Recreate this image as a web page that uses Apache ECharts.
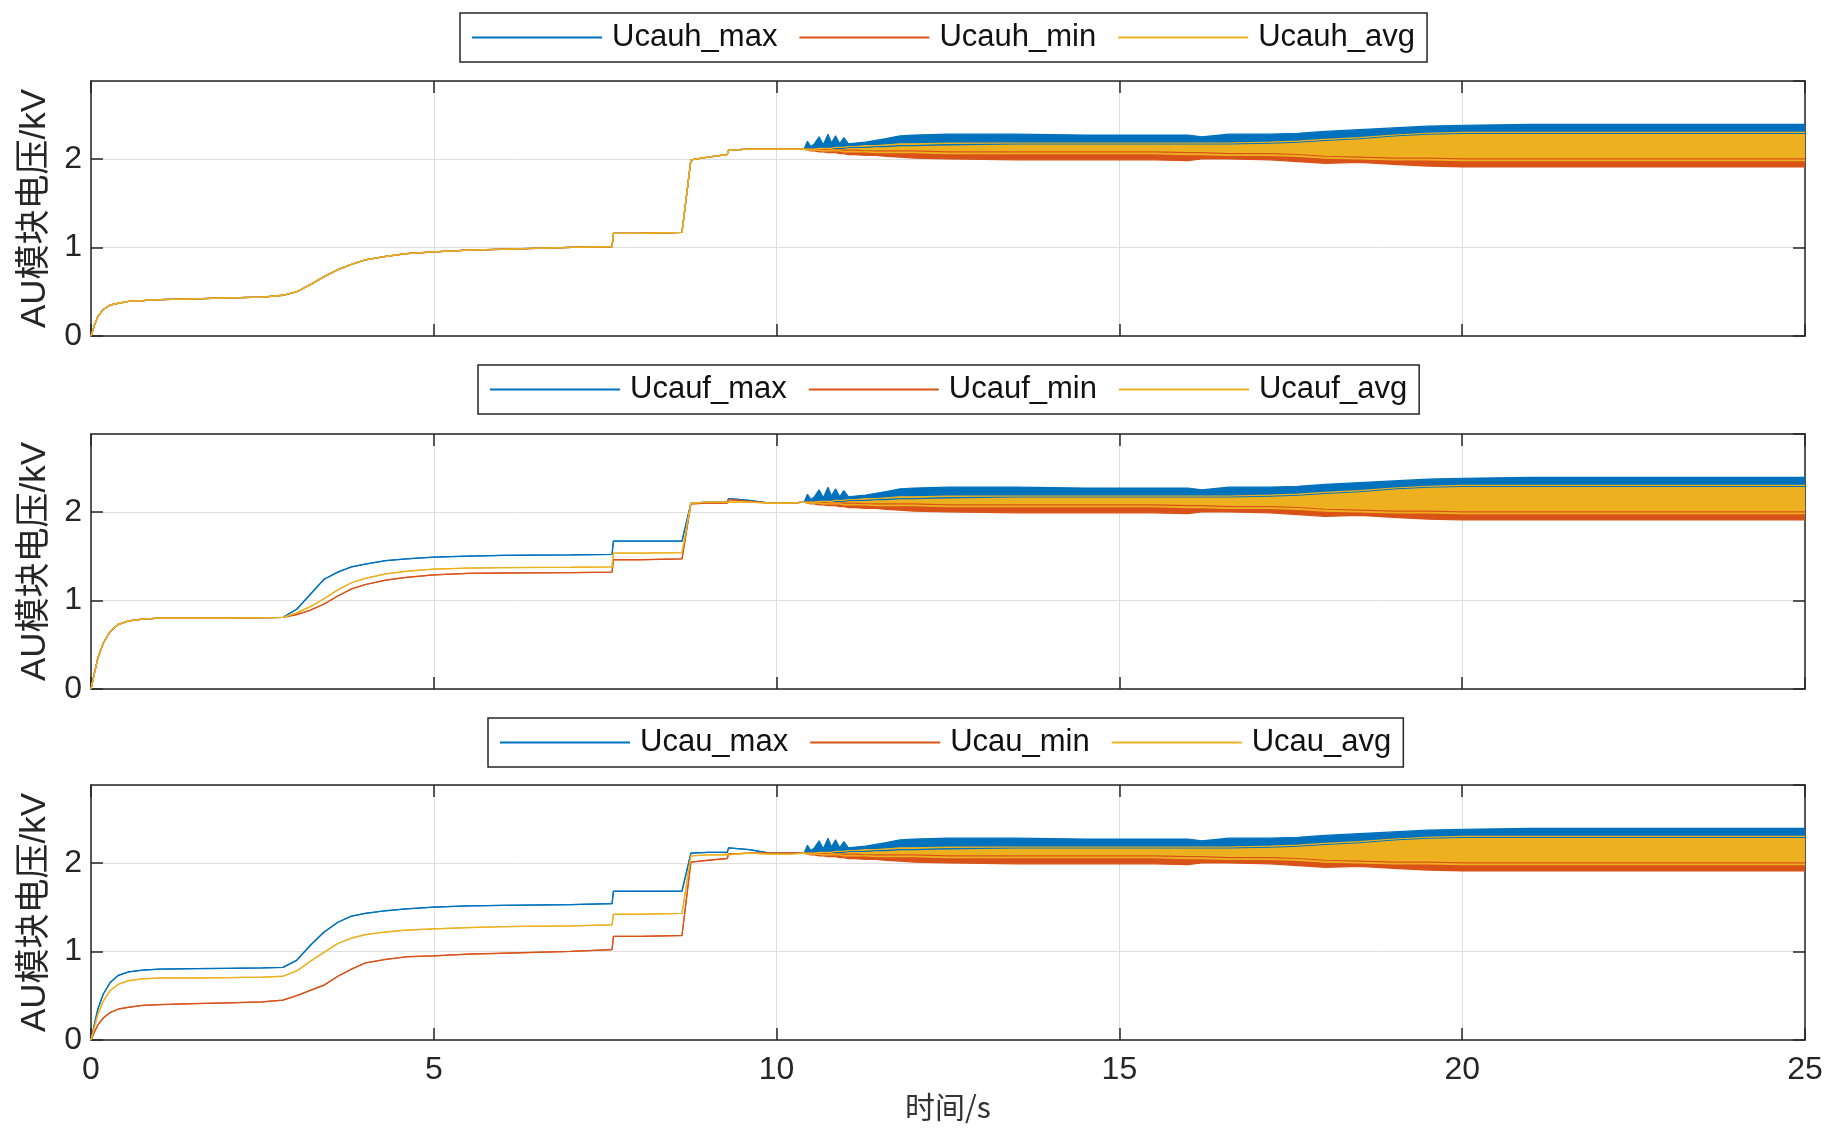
<!DOCTYPE html>
<html lang="zh">
<head>
    <meta charset="UTF-8">
    <title>AU模块电压</title>
    <style>
        html, body {
            margin: 0;
            padding: 0;
            background: #fff;
        }
        #chartmain {
            width: 1831px;
            height: 1130px;
        }
    </style>
</head>
<body>
<div id="chartmain"></div>

<script src="https://cdn.jsdelivr.net/npm/echarts@6/dist/echarts.min.js"></script>
<script type="text/javascript">
    // 时间轴 (s)：前段平滑曲线
    var tEarly = [0, 0.05, 0.1, 0.18, 0.28, 0.4, 0.55, 0.75, 1.0, 1.5, 2.0, 2.5, 2.8, 3.0, 3.2, 3.4, 3.6, 3.8, 4.0, 4.3,
        4.6, 5.0, 5.5, 6.0, 7.0, 7.6, 7.62, 8.0, 8.62, 8.75, 9.0, 9.28, 9.3, 9.6, 9.9, 10.2];

    // 上图 Ucauh：三条线几乎重合
    var ucauh = [0, 0.12, 0.22, 0.30, 0.35, 0.37, 0.39, 0.40, 0.41, 0.42, 0.43, 0.44, 0.46, 0.50, 0.58, 0.67, 0.75, 0.81, 0.86, 0.90,
        0.93, 0.95, 0.97, 0.98, 1.00, 1.01, 1.16, 1.16, 1.17, 1.99, 2.02, 2.05, 2.10, 2.11, 2.11, 2.11];

    // 中图 Ucauf
    var ucaufMax = [0, 0.18, 0.35, 0.52, 0.65, 0.73, 0.77, 0.79, 0.80, 0.80, 0.80, 0.805, 0.81, 0.90, 1.07, 1.24, 1.32, 1.38, 1.41, 1.45,
        1.47, 1.49, 1.50, 1.51, 1.515, 1.52, 1.67, 1.67, 1.67, 2.10, 2.11, 2.11, 2.15, 2.13, 2.10, 2.10];
    var ucaufMin = [0, 0.18, 0.35, 0.52, 0.65, 0.73, 0.77, 0.79, 0.80, 0.80, 0.80, 0.805, 0.81, 0.84, 0.89, 0.96, 1.05, 1.13, 1.18, 1.23,
        1.26, 1.29, 1.305, 1.31, 1.315, 1.32, 1.46, 1.46, 1.47, 2.09, 2.10, 2.10, 2.14, 2.12, 2.10, 2.10];
    var ucaufAvg = [0, 0.18, 0.35, 0.52, 0.65, 0.73, 0.77, 0.79, 0.80, 0.80, 0.80, 0.805, 0.81, 0.86, 0.93, 1.02, 1.12, 1.20, 1.25, 1.30,
        1.33, 1.355, 1.365, 1.37, 1.375, 1.38, 1.535, 1.535, 1.54, 2.10, 2.11, 2.11, 2.12, 2.11, 2.10, 2.10];

    // 下图 Ucau
    var ucauMax = [0, 0.18, 0.35, 0.52, 0.65, 0.73, 0.77, 0.79, 0.80, 0.805, 0.81, 0.815, 0.82, 0.90, 1.07, 1.22, 1.33, 1.40, 1.43, 1.46,
        1.48, 1.50, 1.515, 1.52, 1.53, 1.54, 1.68, 1.68, 1.68, 2.11, 2.12, 2.12, 2.17, 2.15, 2.11, 2.11];
    var ucauMin = [0, 0.09, 0.17, 0.25, 0.31, 0.35, 0.37, 0.39, 0.40, 0.41, 0.42, 0.43, 0.45, 0.50, 0.56, 0.62, 0.72, 0.80, 0.87, 0.91,
        0.94, 0.95, 0.97, 0.98, 1.00, 1.02, 1.17, 1.17, 1.18, 2.01, 2.03, 2.05, 2.10, 2.11, 2.11, 2.11];
    var ucauAvg = [0, 0.15, 0.29, 0.44, 0.56, 0.63, 0.67, 0.69, 0.70, 0.70, 0.705, 0.71, 0.72, 0.78, 0.89, 0.99, 1.09, 1.15, 1.19, 1.22,
        1.24, 1.255, 1.27, 1.28, 1.29, 1.30, 1.42, 1.42, 1.43, 2.08, 2.09, 2.09, 2.11, 2.11, 2.10, 2.10];

    // 振荡段 (s)：各信号的上下包络 (三幅图基本一致)
    var tBand = [10.4, 10.45, 10.5, 10.55, 10.62, 10.68, 10.75, 10.8, 10.86, 10.92, 10.98, 11.05, 11.15, 11.3, 11.45, 11.6, 11.8, 12.0,
        12.5, 13.5, 14.5, 15.5, 16.0, 16.2, 16.6, 17.2, 17.6, 18.0, 18.5, 19.0, 19.5, 20.0, 21.0, 22.5, 24.0, 25.0];
    var maxHi = [2.11, 2.20, 2.14, 2.17, 2.25, 2.16, 2.28, 2.18, 2.26, 2.17, 2.24, 2.17, 2.18, 2.19, 2.21, 2.23, 2.26, 2.27,
        2.28, 2.28, 2.27, 2.27, 2.27, 2.25, 2.28, 2.28, 2.29, 2.31, 2.33, 2.35, 2.37, 2.38, 2.39, 2.39, 2.39, 2.39];
    var maxLo = [2.11, 2.11, 2.11, 2.11, 2.12, 2.12, 2.12, 2.12, 2.12, 2.12, 2.12, 2.13, 2.13, 2.13, 2.14, 2.14, 2.15, 2.15,
        2.16, 2.17, 2.17, 2.17, 2.17, 2.17, 2.17, 2.18, 2.19, 2.21, 2.23, 2.26, 2.28, 2.29, 2.29, 2.29, 2.29, 2.29];
    var avgHi = [2.11, 2.11, 2.11, 2.11, 2.12, 2.12, 2.12, 2.12, 2.13, 2.13, 2.13, 2.14, 2.14, 2.15, 2.15, 2.16, 2.17, 2.17,
        2.18, 2.18, 2.18, 2.18, 2.18, 2.18, 2.18, 2.19, 2.20, 2.22, 2.24, 2.27, 2.29, 2.30, 2.30, 2.30, 2.30, 2.30];
    var avgLo = [2.11, 2.10, 2.10, 2.10, 2.10, 2.09, 2.09, 2.09, 2.09, 2.09, 2.08, 2.08, 2.08, 2.08, 2.07, 2.07, 2.07, 2.07,
        2.06, 2.06, 2.06, 2.06, 2.05, 2.05, 2.04, 2.04, 2.03, 2.01, 2.00, 1.99, 1.99, 1.98, 1.98, 1.98, 1.98, 1.98];
    var minHi = [2.11, 2.11, 2.11, 2.11, 2.11, 2.11, 2.10, 2.10, 2.10, 2.10, 2.10, 2.10, 2.10, 2.09, 2.09, 2.09, 2.09, 2.09,
        2.08, 2.08, 2.08, 2.08, 2.07, 2.07, 2.06, 2.06, 2.05, 2.03, 2.02, 2.01, 2.01, 2.00, 2.00, 2.00, 2.00, 2.00];
    var minLo = [2.11, 2.10, 2.09, 2.09, 2.08, 2.08, 2.07, 2.07, 2.07, 2.06, 2.06, 2.05, 2.05, 2.04, 2.04, 2.03, 2.02, 2.01,
        2.00, 1.99, 1.99, 1.99, 1.98, 2.00, 2.00, 1.99, 1.97, 1.95, 1.96, 1.94, 1.92, 1.91, 1.91, 1.91, 1.91, 1.91];

    var panelNames = [
        ['Ucauh_max', 'Ucauh_min', 'Ucauh_avg'],
        ['Ucauf_max', 'Ucauf_min', 'Ucauf_avg'],
        ['Ucau_max', 'Ucau_min', 'Ucau_avg']
    ];
    var panelEarly = [
        [ucauh, ucauh, ucauh],
        [ucaufMax, ucaufMin, ucaufAvg],
        [ucauMax, ucauMin, ucauAvg]
    ];
    var bandLo = [maxLo, minLo, avgLo];
    var bandHi = [maxHi, minHi, avgHi];

    var colors = ['#0072BD', '#D95319', '#EDB120'];
    var gridTops = [81, 434, 785];
    var gridHeight = 255;
    var legendLefts = [460, 478, 488];
    var legendTops = [13, 365, 718];

    var fontLatin = 'Liberation Sans, Arial, Noto Sans CJK SC, sans-serif';
    var dark = '#262626';

    var grids = [], xAxes = [], yAxes = [], legends = [], series = [];

    for (var p = 0; p < 3; p++) {
        grids.push({left: 91, width: 1714, top: gridTops[p], height: gridHeight});

        var tick = {show: true, inside: true, length: 12, lineStyle: {color: dark, width: 1.5}};
        var line = {show: true, onZero: false, lineStyle: {color: dark, width: 1.5}};

        xAxes.push({
            type: 'value', gridIndex: p, min: 0, max: 25, interval: 5, position: 'bottom',
            axisLine: line, axisTick: tick,
            splitLine: {show: true, lineStyle: {color: '#dedede', width: 1}},
            axisLabel: {show: p === 2, fontSize: 32, color: dark, margin: 14, fontFamily: fontLatin},
            name: p === 2 ? '时间/s' : '', nameLocation: 'middle', nameGap: 52,
            nameTextStyle: {fontSize: 30, color: '#333', fontFamily: 'Noto Sans CJK SC, sans-serif'}
        });
        xAxes.push({
            type: 'value', gridIndex: p, min: 0, max: 25, interval: 5, position: 'top',
            axisLine: line, axisTick: tick, splitLine: {show: false}, axisLabel: {show: false}
        });

        yAxes.push({
            type: 'value', gridIndex: p, min: 0, max: 2.88, interval: 1, position: 'left',
            axisLine: line, axisTick: tick,
            splitLine: {show: true, lineStyle: {color: '#dedede', width: 1}},
            axisLabel: {fontSize: 32, color: dark, margin: 9, showMaxLabel: false, fontFamily: fontLatin},
            name: 'AU模块电压/kV', nameLocation: 'middle', nameGap: 36,
            nameTextStyle: {fontSize: 35, color: dark, fontFamily: fontLatin}
        });
        yAxes.push({
            type: 'value', gridIndex: p, min: 0, max: 2.88, interval: 1, position: 'right',
            axisLine: line, axisTick: tick, splitLine: {show: false}, axisLabel: {show: false}
        });

        legends.push({
            left: legendLefts[p], top: legendTops[p], orient: 'horizontal',
            data: panelNames[p].map(function (n) { return {name: n, icon: 'rect'}; }),
            itemWidth: 130, itemHeight: 2, itemGap: 22,
            padding: [9, 12, 9, 12],
            borderColor: dark, borderWidth: 1.5, backgroundColor: '#fff',
            textStyle: {fontSize: 31, color: '#111', fontFamily: fontLatin, padding: [0, 0, 0, 5]},
            selectedMode: false
        });

        // 每个信号：下包络线 + 堆叠的包络带 (数据列为 [电压, 时间]，使堆叠作用在电压上)
        for (var s = 0; s < 3; s++) {
            var lo = [], diff = [];
            var early = panelEarly[p][s];
            for (var i = 0; i < tEarly.length; i++) {
                lo.push([early[i], tEarly[i]]);
                diff.push([0, tEarly[i]]);
            }
            for (var j = 0; j < tBand.length; j++) {
                lo.push([bandLo[s][j], tBand[j]]);
                diff.push([+(bandHi[s][j] - bandLo[s][j]).toFixed(3), tBand[j]]);
            }
            var stackKey = 'p' + p + 's' + s;
            series.push({
                name: panelNames[p][s], type: 'line', xAxisIndex: p * 2, yAxisIndex: p * 2,
                stack: stackKey, data: lo, encode: {x: 1, y: 0}, showSymbol: false, color: colors[s],
                lineStyle: {width: 1.3, color: colors[s]}, silent: true
            });
            series.push({
                name: panelNames[p][s], type: 'line', xAxisIndex: p * 2, yAxisIndex: p * 2,
                stack: stackKey, data: diff, encode: {x: 1, y: 0}, showSymbol: false, color: colors[s],
                lineStyle: {width: 1.2, color: colors[s]},
                areaStyle: {color: colors[s], opacity: 1}, silent: true
            });
        }
    }

    var option = {
        backgroundColor: '#fff',
        animation: false,
        grid: grids,
        xAxis: xAxes,
        yAxis: yAxes,
        legend: legends,
        series: series
    };

    var myChart = echarts.init(document.getElementById('chartmain'));
    myChart.setOption(option);
</script>
</body>
</html>
